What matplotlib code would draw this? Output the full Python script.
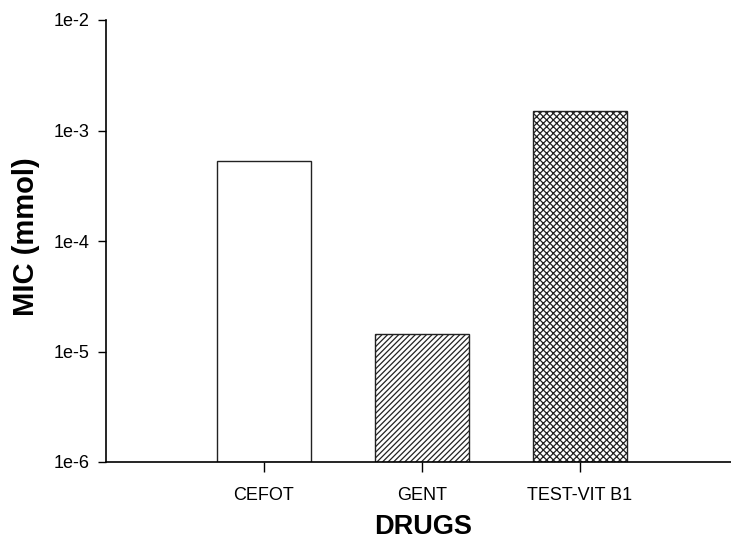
import numpy as np
import matplotlib
matplotlib.use('Agg')
from matplotlib import pyplot as plt

plt.rcParams['font.family'] = ['Liberation Sans', 'DejaVu Sans']
plt.rcParams['hatch.linewidth'] = 0.9

# data
drugs = ['CEFOT', 'GENT', 'TEST-VIT B1']
mic = [5.3e-4, 1.34e-5, 1.5e-3]
hatches = ['', '//////', 'xxxxx']
yticks = [1e-6, 1e-5, 1e-4, 1e-3, 1e-2]
ytick_labels = ['1e-6', '1e-5', '1e-4', '1e-3', '1e-2']

fig = plt.figure(figsize=(7.31, 5.42), dpi=100)
ax = fig.add_axes([106/731, 1 - 462/542, 625/731, 442/542])

x = np.arange(1, len(drugs) + 1)
for xi, val, h in zip(x, mic, hatches):
    ax.bar(xi, val, width=0.6, bottom=1e-6, color='white', edgecolor='#222222',
           linewidth=1.0, hatch=h)

ax.set_yscale('log')
ax.set_ylim(1e-6, 1e-2)
ax.set_xlim(0, 625/158)
ax.set_yticks(yticks)
ax.set_yticklabels(ytick_labels)
ax.minorticks_off()
ax.set_xticks(x)
ax.set_xticklabels(drugs)

ax.spines['top'].set_visible(False)
ax.spines['right'].set_visible(False)
ax.spines['left'].set_linewidth(1.2)
ax.spines['bottom'].set_linewidth(1.2)
ax.tick_params(axis='y', direction='out', length=6, width=1, pad=6, labelsize=13)
ax.tick_params(axis='x', direction='out', length=7, width=1, pad=11, labelsize=13)

ax.set_ylabel('MIC (mmol)', fontsize=21, fontweight='bold')
ax.yaxis.set_label_coords(-0.105, 0.51)
ax.set_xlabel('DRUGS', fontsize=19.5, fontweight='bold')
ax.xaxis.set_label_coords(0.508, -0.117)

plt.savefig('out.png', dpi=100)
